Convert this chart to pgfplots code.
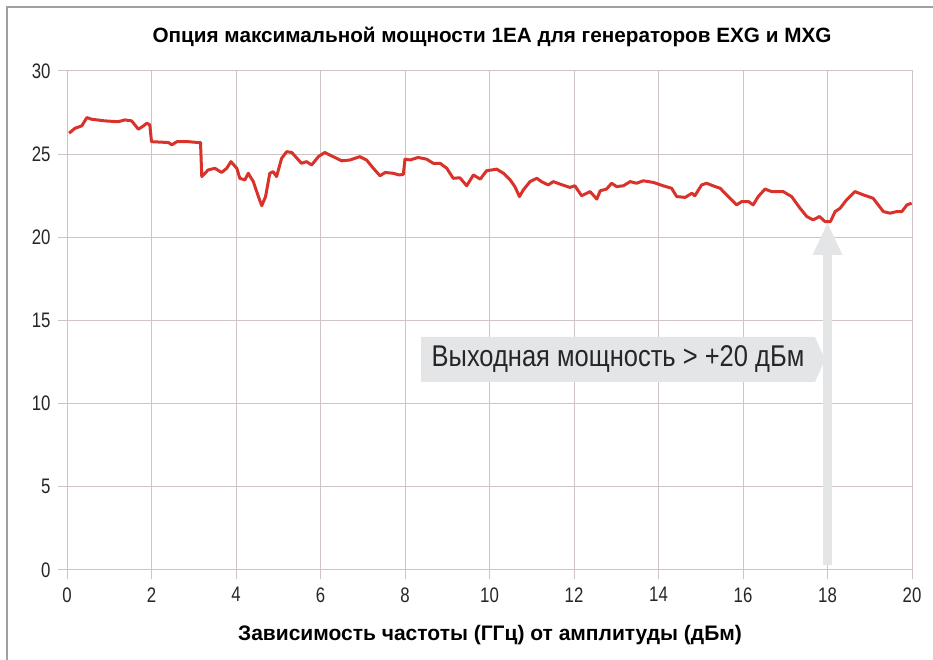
\documentclass[border=0pt]{standalone}
\usepackage{pgfplots}
\pgfplotsset{compat=1.18}
\usepackage{fontspec}
\setmainfont{Liberation Sans}
\newfontfamily\condfont{Liberation Sans}[FakeStretch=0.8]
\newfontfamily\annfont{Liberation Sans}[FakeStretch=0.85]
\usetikzlibrary{arrows.meta}
\definecolor{gridc}{HTML}{CFC4C4}
\definecolor{linec}{HTML}{D8322B}
\definecolor{annc}{HTML}{E4E5E7}
\definecolor{framec}{HTML}{A0A0A0}

\pgfplotstableread{
x y
0.05 26.26
0.19 26.56
0.35 26.70
0.47 27.20
0.58 27.10
0.90 27.00
1.21 26.95
1.37 27.06
1.53 27.00
1.69 26.50
1.81 26.70
1.89 26.86
1.96 26.76
2.00 25.75
2.40 25.70
2.48 25.56
2.60 25.75
2.87 25.75
3.10 25.70
3.16 25.70
3.19 23.65
3.34 24.05
3.50 24.15
3.66 23.90
3.78 24.15
3.88 24.55
4.02 24.15
4.09 23.55
4.21 23.45
4.29 23.85
4.41 23.35
4.53 22.45
4.61 21.90
4.70 22.45
4.80 23.85
4.88 23.95
4.96 23.65
5.08 24.75
5.20 25.15
5.32 25.10
5.55 24.45
5.67 24.55
5.79 24.35
5.95 24.85
6.10 25.10
6.30 24.85
6.50 24.60
6.70 24.65
6.93 24.85
7.09 24.65
7.25 24.15
7.41 23.70
7.53 23.90
7.72 23.85
7.86 23.75
7.96 23.78
8.00 24.70
8.12 24.65
8.31 24.80
8.51 24.70
8.67 24.45
8.83 24.45
8.99 24.15
9.14 23.55
9.30 23.58
9.46 23.10
9.62 23.75
9.78 23.50
9.93 24.00
10.17 24.10
10.33 23.85
10.49 23.45
10.60 23.05
10.71 22.45
10.80 22.85
10.96 23.35
11.12 23.55
11.23 23.35
11.39 23.15
11.51 23.35
11.67 23.20
11.90 23.00
12.02 23.10
12.18 22.50
12.38 22.75
12.54 22.30
12.62 22.80
12.77 22.90
12.89 23.25
13.01 23.05
13.17 23.10
13.33 23.35
13.48 23.25
13.64 23.40
13.88 23.30
14.11 23.10
14.31 22.95
14.43 22.45
14.63 22.40
14.79 22.65
14.86 22.50
15.02 23.15
15.14 23.25
15.34 23.05
15.46 22.95
15.65 22.45
15.85 21.95
15.97 22.15
16.13 22.15
16.24 21.95
16.36 22.45
16.52 22.90
16.68 22.75
16.95 22.75
17.15 22.45
17.35 21.75
17.51 21.25
17.66 21.05
17.81 21.25
17.94 20.95
18.07 20.95
18.18 21.55
18.30 21.75
18.45 22.25
18.65 22.75
18.85 22.55
19.08 22.35
19.20 21.95
19.32 21.55
19.48 21.45
19.64 21.55
19.76 21.55
19.88 21.95
19.99 22.05
}\powerdata

\begin{document}
\begin{tikzpicture}
\begin{axis}[
  at={(67bp,90bp)}, anchor=south west,
  scale only axis, width=845bp, height=499bp,
  xmin=0, xmax=20, ymin=0, ymax=30,
  xtick={0,2,...,20}, ytick={0,5,...,30},
  xtick pos=left, ytick pos=left,
  grid=major,
  major grid style={gridc, line width=1bp},
  axis line style={gridc, line width=1bp},
  tick style={gridc, line width=1bp},
  tick align=outside, major tick length=9bp,
  ticklabel style={font=\condfont\fontsize{21bp}{21bp}\selectfont, text=black!85},
  /pgf/number format/assume math mode=true,
  xticklabel style={anchor=north, yshift=-5bp},
  yticklabel style={anchor=east, xshift=-4bp},
]
\draw[annc, line width=9bp, -{Triangle[width=27bp,length=33bp]}] (axis cs:18,0.3) -- (axis cs:18,20.93);
\addplot[linec, line width=3bp, line join=round] table[x=x,y=y] {\powerdata};
\end{axis}
% annotation box
\fill[annc] (421bp,278bp) -- (815bp,278bp) -- (825bp,300.5bp) -- (815bp,323bp) -- (421bp,323bp) -- cycle;
\node[font=\annfont\fontsize{30bp}{30bp}\selectfont, text=black!85, anchor=center] at (618bp,300.5bp) {Выходная мощность > +20 дБм};
% title and x label
\node[font=\bfseries\fontsize{20.7bp}{21bp}\selectfont, anchor=base] at (492bp,617bp) {Опция максимальной мощности 1EA для генераторов EXG и MXG};
\node[font=\bfseries\fontsize{21bp}{21bp}\selectfont, anchor=base] at (490bp,20bp) {Зависимость частоты (ГГц) от амплитуды (дБм)};
% frame
\draw[framec, line width=1.3bp] (7bp,-5bp) -- (7bp,653bp) -- (940bp,653bp);
\pgfresetboundingbox
\useasboundingbox (0,0) rectangle (933bp,660bp);
\end{tikzpicture}
\end{document}
